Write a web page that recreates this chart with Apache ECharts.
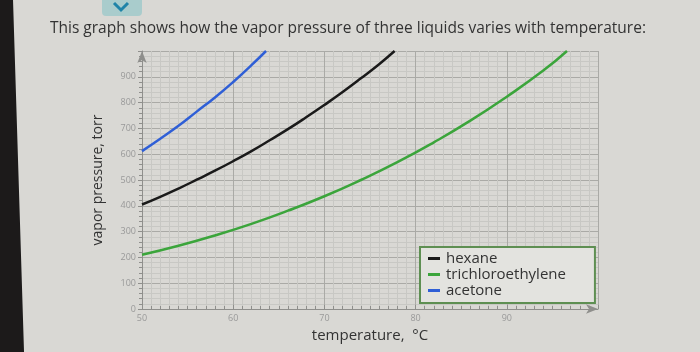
<!DOCTYPE html>
<html>
<head>
<meta charset="utf-8">
<script src="https://cdn.jsdelivr.net/npm/echarts@6/dist/echarts.min.js"></script>
<style>
  html, body { margin: 0; padding: 0; background: #d9d8d4; }
  #chart { width: 700px; height: 352px; }
</style>
</head>
<body>
<div id="chart"></div>
<script>
// temperatures (°C) and vapor pressures (torr)
const acetoneT = [50, 52, 54, 56, 58, 60, 62, 63.6]
const acetoneP = [612, 660, 710, 765, 820, 880, 945, 1000]

const hexaneT = [50, 52, 54, 56, 58, 60, 62, 64, 66, 68, 70, 72, 74, 76, 77.7]
const hexaneP = [405, 435, 467, 501, 536, 573, 612, 654, 697, 743, 791, 841, 894, 949, 1000]

const trichloroT = [50, 54, 58, 62, 66, 70, 74, 78, 82, 86, 90, 94, 96.6]
const trichloroP = [210, 245, 285, 330, 381, 437, 500, 569, 646, 730, 823, 924, 1000]

const pairs = (xs, ys) => xs.map((x, i) => [x, ys[i]])

const chartDom = document.getElementById('chart')
const myChart = echarts.init(chartDom)

const gridMinor = { show: true, lineStyle: { color: '#c8c8c4', width: 1 } }

const option = {
  backgroundColor: '#d9d8d4',
  animation: false,
  textStyle: { fontFamily: 'Open Sans' },
  grid: { left: 142, right: 102, top: 51, bottom: 43 },
  graphic: [
    // dark edge of the photo
    { type: 'polygon', shape: { points: [[0, 0], [13, 0], [24, 352], [0, 352]] }, style: { fill: '#1c1a1a' } },
    // collapse button
    { type: 'rect', shape: { x: 102, y: -6, width: 40, height: 22, r: 4 }, style: { fill: '#a9cccc' } },
    { type: 'polyline', shape: { points: [[114, 3], [121, 10], [128, 3]] }, style: { stroke: '#1f84a8', lineWidth: 3, fill: null } },
    {
      type: 'text', left: 50, top: 21,
      style: {
        text: 'This graph shows how the vapor pressure of three liquids varies with temperature:',
        fontSize: 15.5, fill: '#333', fontFamily: 'Open Sans'
      }
    }
  ],
  legend: {
    orient: 'vertical',
    left: 420, top: 247,
    backgroundColor: '#e3e3df',
    borderColor: '#5e8f52',
    borderWidth: 2,
    borderRadius: 0,
    padding: [4, 29, 5, 8],
    itemGap: 1,
    icon: 'rect',
    itemWidth: 12,
    itemHeight: 3,
    textStyle: { fontSize: 15, color: '#333', padding: [0, 0, 0, 1] },
    data: ['hexane', 'trichloroethylene', 'acetone']
  },
  xAxis: {
    type: 'value',
    min: 50, max: 100, interval: 10,
    name: 'temperature,  °C',
    nameLocation: 'middle',
    nameGap: 17,
    nameTextStyle: { fontSize: 15, color: '#333' },
    axisLine: { lineStyle: { color: '#8f8f8c' }, symbol: ['none', 'arrow'], symbolSize: [7, 12] },
    axisTick: { length: 4, inside: true, lineStyle: { color: '#8f8f8c' } },
    minorTick: { show: true, splitNumber: 10, length: 3, lineStyle: { color: '#8f8f8c' } },
    axisLabel: {
      fontSize: 9, color: '#999', margin: 5,
      formatter: v => (v >= 100 ? '' : String(v))
    },
    splitLine: { show: true, lineStyle: { color: '#aaaaa6', width: 1 } },
    minorSplitLine: gridMinor
  },
  yAxis: {
    type: 'value',
    min: 0, max: 1000, interval: 100,
    name: 'vapor pressure, torr',
    nameLocation: 'middle',
    nameGap: 37,
    nameTextStyle: { fontSize: 14, color: '#333' },
    axisLine: { show: true, lineStyle: { color: '#8f8f8c' }, symbol: ['none', 'arrow'], symbolSize: [7, 12] },
    axisTick: { show: true, length: 4, lineStyle: { color: '#8f8f8c' } },
    minorTick: { show: true, splitNumber: 5, length: 3, lineStyle: { color: '#8f8f8c' } },
    axisLabel: {
      fontSize: 9, color: '#999', margin: 6,
      formatter: v => (v >= 1000 ? '' : String(v))
    },
    splitLine: { show: true, lineStyle: { color: '#aaaaa6', width: 1 } },
    minorSplitLine: gridMinor
  },
  series: [
    {
      name: 'hexane', type: 'line', smooth: true, showSymbol: false,
      color: '#1a1a1a', lineStyle: { width: 2.5 },
      data: pairs(hexaneT, hexaneP)
    },
    {
      name: 'trichloroethylene', type: 'line', smooth: true, showSymbol: false,
      color: '#3ba53b', lineStyle: { width: 2.5 },
      data: pairs(trichloroT, trichloroP)
    },
    {
      name: 'acetone', type: 'line', smooth: true, showSymbol: false,
      color: '#2f5fd6', lineStyle: { width: 2.5 },
      data: pairs(acetoneT, acetoneP)
    }
  ]
}

myChart.setOption(option)
</script>
</body>
</html>
